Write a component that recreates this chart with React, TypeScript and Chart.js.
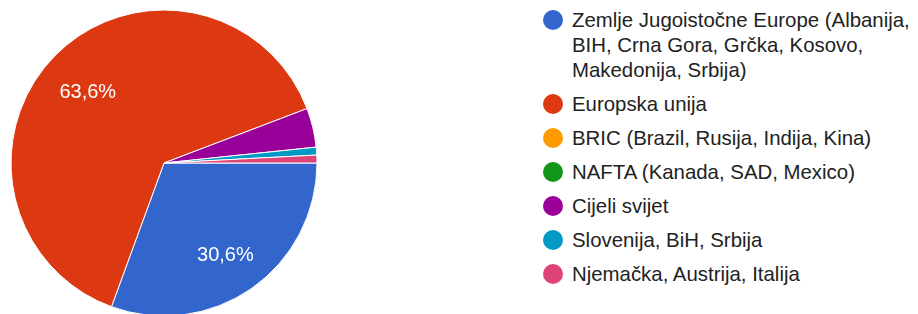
import React, { useEffect, useRef } from "react";
import { Chart, registerables } from "chart.js";

Chart.register(...registerables);

// Categories (legend lines as they wrap in the original)
const categories: string[][] = [
  ["Zemlje Jugoistočne Europe (Albanija,", "BIH, Crna Gora, Grčka, Kosovo,", "Makedonija, Srbija)"],
  ["Europska unija"],
  ["BRIC (Brazil, Rusija, Indija, Kina)"],
  ["NAFTA (Kanada, SAD, Mexico)"],
  ["Cijeli svijet"],
  ["Slovenija, BiH, Srbija"],
  ["Njemačka, Austrija, Italija"],
];

// Response counts
const responses: number[] = [37, 77, 0, 0, 5, 1, 1];

const sliceColors: string[] = ["#3366cc", "#dc3912", "#ff9900", "#109618", "#990099", "#0099c6", "#dd4477"];

const FONT = '"Liberation Sans", Arial, Helvetica, sans-serif';

const sliceLabels = {
  id: "sliceLabels",
  afterDatasetsDraw(chart: any) {
    const meta = chart.getDatasetMeta(0);
    const data = chart.data.datasets[0].data as number[];
    const total = data.reduce((a, b) => a + b, 0);
    const ctx = chart.ctx as CanvasRenderingContext2D;
    ctx.save();
    ctx.font = `20px ${FONT}`;
    ctx.fillStyle = "#ffffff";
    ctx.textAlign = "center";
    ctx.textBaseline = "alphabetic";
    meta.data.forEach((arc: any, i: number) => {
      const pct = (data[i] / total) * 100;
      if (pct < 5) return;
      const { x, y, startAngle, endAngle, outerRadius } = arc.getProps(
        ["x", "y", "startAngle", "endAngle", "outerRadius"],
        true
      );
      const mid = (startAngle + endAngle) / 2;
      const r = outerRadius * 0.7;
      ctx.fillText(pct.toFixed(1).replace(".", ",") + "%", x + Math.cos(mid) * r, y + Math.sin(mid) * r + 10);
    });
    ctx.restore();
  },
};

export default function App() {
  const canvasRef = useRef<HTMLCanvasElement | null>(null);

  useEffect(() => {
    if (!canvasRef.current) return;
    const chart = new Chart(canvasRef.current, {
      type: "pie",
      data: {
        labels: categories.map((l) => l.join(" ")),
        datasets: [
          {
            data: responses,
            backgroundColor: sliceColors,
            borderColor: "#ffffff",
            borderWidth: 1,
            hoverOffset: 0,
            radius: 153,
          } as any,
        ],
      },
      options: {
        responsive: false,
        animation: false,
        rotation: 90,
        events: [],
        layout: { padding: { left: 0, right: 2, top: 0, bottom: 4 } },
        plugins: {
          legend: { display: false },
          tooltip: { enabled: false },
        },
      },
      plugins: [sliceLabels],
    });
    return () => chart.destroy();
  }, []);

  return (
    <div
      style={{
        position: "absolute",
        left: 0,
        top: 0,
        width: 918,
        height: 314,
        overflow: "hidden",
        background: "#ffffff",
      }}
    >
      <canvas
        ref={canvasRef}
        width={330}
        height={330}
        style={{ position: "absolute", left: 0, top: 0, width: 330, height: 330 }}
      />
      <div style={{ position: "absolute", left: 543, top: 7.5 }}>
        {categories.map((lines, i) => (
          <div key={i} style={{ display: "flex", alignItems: "flex-start", marginBottom: 9 }}>
            <div
              style={{
                width: 20,
                height: 20,
                borderRadius: "50%",
                background: sliceColors[i],
                marginTop: 2.5,
                marginRight: 9,
                flex: "0 0 auto",
              }}
            />
            <div
              style={{
                font: `20.4px ${FONT}`,
                lineHeight: "25px",
                color: "#222222",
                whiteSpace: "nowrap",
              }}
            >
              {lines.map((ln, j) => (
                <div key={j}>{ln}</div>
              ))}
            </div>
          </div>
        ))}
      </div>
    </div>
  );
}
